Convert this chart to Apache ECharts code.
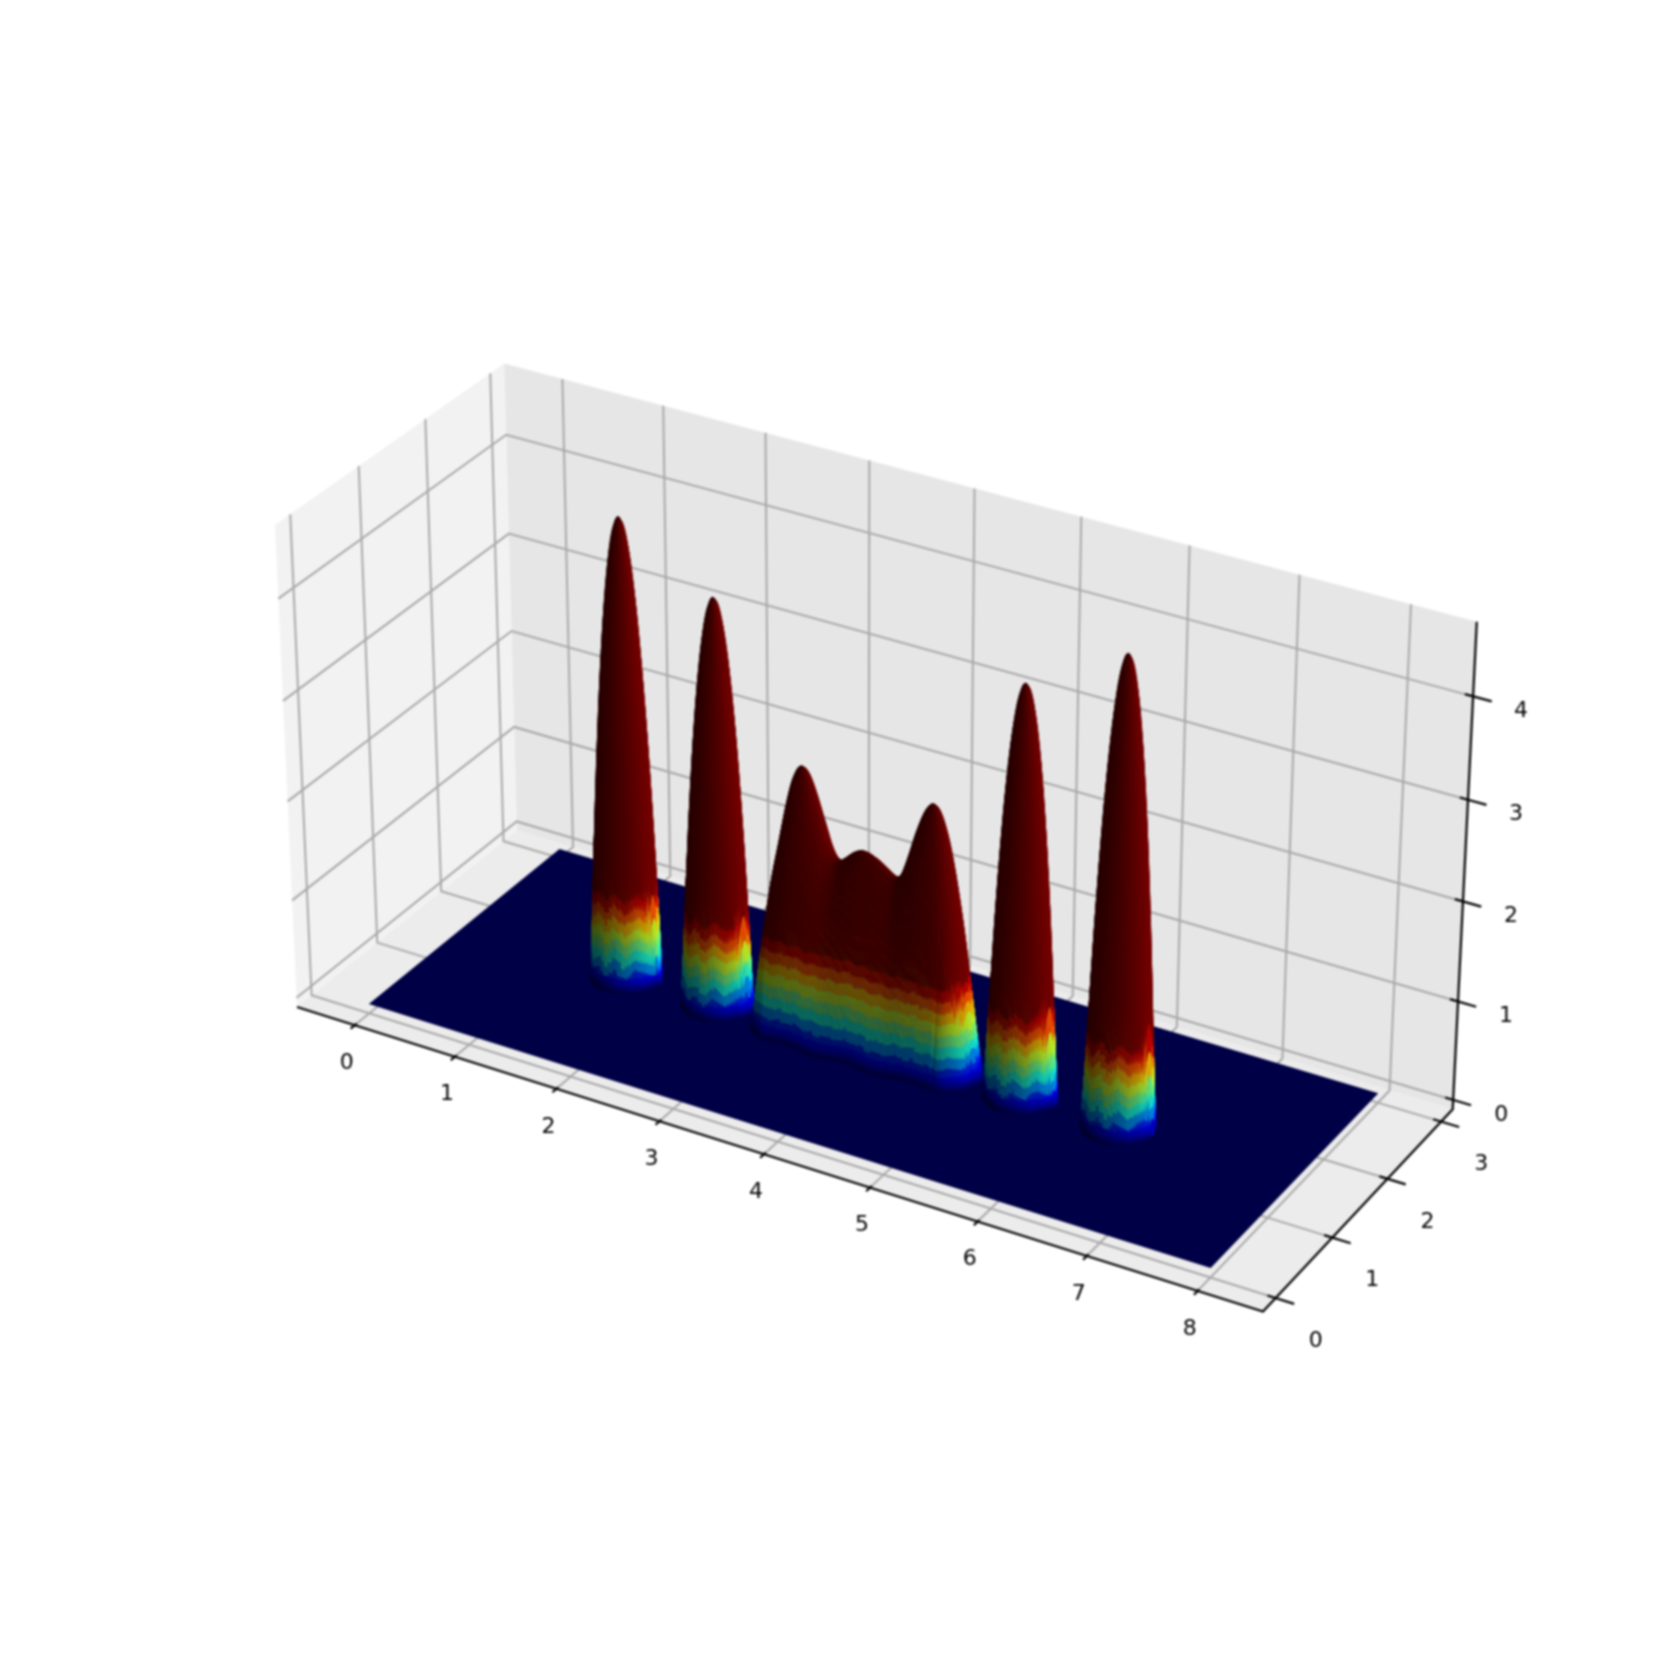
<!DOCTYPE html>
<html lang="en">
<head>
<meta charset="UTF-8">
<title>Surface</title>
<style>
  html, body { margin: 0; padding: 0; background: #fff; }
  #main { width: 1661px; height: 1661px; filter: blur(0.8px); }
</style>
</head>
<body>
<div id="main"></div>
<script src="https://cdn.jsdelivr.net/npm/echarts@6/dist/echarts.min.js"></script>
<script>
// tick values of the three axes
var xTicks = [0, 1, 2, 3, 4, 5, 6, 7, 8];
var yTicks = [0, 1, 2, 3];
var zTicks = [0, 1, 2, 3, 4];

// ridge of the surface along x: one value each 0.04 from x = 1.28
var ridgeStart = 1.28, ridgeStep = 0.04, ridgeY = 1.5;
var ridgeZ = [
  0.03, 0.30, 1.14, 2.12, 2.94, 3.59, 4.08, 4.41, 4.57, 4.57, 4.41, 4.08, 3.59, 2.94, 2.12, 1.14, 0.30, 0.03,
  0, 0, 0, 0, 0,
  0.08, 0.52, 1.46, 2.26, 2.91, 3.41, 3.77, 3.99, 4.06, 3.99, 3.77, 3.41, 2.91, 2.26, 1.46, 0.52, 0.08,
  0,
  0.08, 0.40, 0.80, 1.13, 1.43, 1.68, 1.90,
  2.13, 2.35, 2.52, 2.62, 2.65, 2.62, 2.54, 2.42, 2.28, 2.14, 2.00, 1.90, 1.84, 1.82, 1.85, 1.89, 1.93, 1.96, 1.98, 1.98,
  1.97, 1.95, 1.93, 1.90, 1.87, 1.84, 1.82, 1.83, 1.90, 2.02, 2.16, 2.31, 2.44, 2.55, 2.62, 2.65, 2.62, 2.53, 2.38, 2.17,
  1.90, 1.60, 1.25, 0.88, 0.50, 0.18, 0.03,
  0,
  0.08, 0.52, 1.47, 2.26, 2.91, 3.42, 3.78, 4.00, 4.07, 4.00, 3.78, 3.42, 2.91, 2.26, 1.47, 0.52, 0.08,
  0, 0, 0, 0, 0, 0,
  0.09, 0.60, 1.66, 2.57, 3.31, 3.88, 4.29, 4.54, 4.62, 4.54, 4.29, 3.88, 3.31, 2.57, 1.66, 0.60, 0.09
];
// half width of the surface across y at the same x positions
var ridgeW = [
  0.02, 0.07, 0.15, 0.204, 0.24, 0.265, 0.283, 0.294, 0.299, 0.299, 0.294, 0.283, 0.265, 0.24, 0.204, 0.15, 0.07, 0.02,
  0, 0, 0, 0, 0,
  0.06, 0.13, 0.18, 0.224, 0.254, 0.275, 0.289, 0.297, 0.30, 0.297, 0.289, 0.275, 0.254, 0.224, 0.18, 0.13, 0.06,
  0,
  0.10, 0.18, 0.23, 0.26, 0.28, 0.30, 0.30,
  0.30, 0.295, 0.29, 0.285, 0.28, 0.285, 0.29, 0.30, 0.31, 0.32, 0.325, 0.33, 0.33, 0.33, 0.325, 0.315, 0.305, 0.295, 0.29, 0.29,
  0.29, 0.30, 0.31, 0.32, 0.33, 0.33, 0.33, 0.325, 0.315, 0.305, 0.295, 0.285, 0.28, 0.28, 0.28, 0.28, 0.28, 0.285, 0.29, 0.295,
  0.30, 0.29, 0.27, 0.24, 0.20, 0.14, 0.07,
  0,
  0.06, 0.13, 0.18, 0.224, 0.254, 0.275, 0.289, 0.297, 0.30, 0.297, 0.289, 0.275, 0.254, 0.224, 0.18, 0.13, 0.06,
  0, 0, 0, 0, 0, 0,
  0.06, 0.13, 0.18, 0.224, 0.254, 0.275, 0.289, 0.297, 0.30, 0.297, 0.289, 0.275, 0.254, 0.224, 0.18, 0.13, 0.06
];
// cross section: share of the ridge height at a share of the half width
var crossT = [0, 0.1, 0.2, 0.3, 0.4, 0.5, 0.6, 0.7, 0.76, 0.8, 0.83, 0.85, 0.86, 0.87, 0.88, 0.89, 0.9, 0.91, 0.92, 0.93, 0.94, 0.95, 0.96, 0.97, 0.98, 0.99, 1, 1.02, 1.04, 1.06, 1.08, 1.1, 1.12];
var crossZ = [1, 0.99, 0.96, 0.91, 0.84, 0.75, 0.64, 0.51, 0.422, 0.36, 0.311, 0.278, 0.26, 0.243, 0.226, 0.208, 0.19, 0.172, 0.153, 0.134, 0.116, 0.098, 0.08, 0.063, 0.047, 0.034, 0.024, 0.012, 0.007, 0.004, 0.002, 0.001, 0];

var surfaceX = [0, 8], surfaceY = [0, 3];
// colour scale top, size of the colour steps and of the teeth on their edges
var colorMax = 1.0, colorStep = 0.11, toothWidth = 0.16, toothHeight = 0.09;
// x range of the wide middle part and its mean half width, used for the light only
var middleX = [3.2, 4.76], middleW = 0.30;

// limits of the 3d box
var xLim = [-0.583, 8.583], yLim = [-0.219, 3.219], zLim = [-0.096, 4.711];
// pixel place of six box corners, the camera is worked out from them
var cA = [297, 1007], cB = [1263, 1311.5], cC = [1452.7, 1109.3], cE = [275, 525], cF = [503, 365], cG = [1476.8, 621.8];

function h(p) { return [p[0] / 1000, p[1] / 1000, 1]; }
function det3(a, b, c) {
  return a[0] * (b[1] * c[2] - b[2] * c[1]) - b[0] * (a[1] * c[2] - a[2] * c[1]) + c[0] * (a[1] * b[2] - a[2] * b[1]);
}
var A = h(cA), B = h(cB), C = h(cC), E = h(cE), F = h(cF), G = h(cG);
var negG = [-G[0], -G[1], -G[2]];
var dd = det3(C, E, negG);
var lam = det3(A, E, negG) / dd, c0 = det3(C, A, negG) / dd, nu = det3(C, E, A) / dd;
var R = [A[0] + nu * G[0], A[1] + nu * G[1], A[2] + nu * G[2]];
// a*B + mu*F = R has one equation too many, take the mean of both ways
var a0 = ((R[0] - F[0] * R[2]) / (B[0] - F[0]) + (R[1] - F[1] * R[2]) / (B[1] - F[1])) / 2;
var colU = [a0 * B[0] - A[0], a0 * B[1] - A[1], a0 * B[2] - A[2]];
var colV = [lam * C[0] - a0 * B[0], lam * C[1] - a0 * B[1], lam * C[2] - a0 * B[2]];
var colW = [c0 * E[0] - A[0], c0 * E[1] - A[1], c0 * E[2] - A[2]];

function project(x, y, z) {
  var u = (x - xLim[0]) / (xLim[1] - xLim[0]);
  var v = (y - yLim[0]) / (yLim[1] - yLim[0]);
  var w = (z - zLim[0]) / (zLim[1] - zLim[0]);
  var px = u * colU[0] + v * colV[0] + w * colW[0] + A[0];
  var py = u * colU[1] + v * colV[1] + w * colW[1] + A[1];
  var pw = u * colU[2] + v * colV[2] + w * colW[2] + A[2];
  return [1000 * px / pw, 1000 * py / pw];
}

function lerp(xs, ys, t) {
  if (t <= xs[0]) return ys[0];
  for (var i = 1; i < xs.length; i++) {
    if (t <= xs[i]) return ys[i - 1] + (ys[i] - ys[i - 1]) * (t - xs[i - 1]) / (xs[i] - xs[i - 1]);
  }
  return ys[ys.length - 1];
}
function jet(v) {
  v = Math.max(0, Math.min(1, v));
  return [
    lerp([0, 0.35, 0.66, 0.89, 1], [0, 0, 1, 1, 0.5], v),
    lerp([0, 0.125, 0.375, 0.64, 0.91, 1], [0, 0, 1, 1, 0, 0], v),
    lerp([0, 0.11, 0.34, 0.65, 1], [0.5, 1, 1, 0, 0], v)
  ];
}
// same light as the plot: normal against a fixed direction
function facetColor(z, n, x) {
  var len = Math.sqrt(n[0] * n[0] + n[1] * n[1] + n[2] * n[2]) || 1;
  var dot = (n[0] * 0.667 + n[1] * 0.667 - n[2] * 0.333) / len;
  var s = 0.3 + 0.35 * (1 + dot);
  var zc = z;
  if (z > 0.14) {
    // the colours of the reference run in steps with toothed edges, weak ones on the wide middle part
    var f = x / toothWidth; f -= Math.floor(f);
    var th = (x > 2.9 && x < 5.06) ? toothHeight * 0.3 : toothHeight;
    zc = Math.floor((z + th * Math.abs(2 * f - 1)) / colorStep) * colorStep + colorStep / 2;
  }
  var c = jet(zc / colorMax);
  return 'rgb(' + Math.round(c[0] * 255 * s) + ',' + Math.round(c[1] * 255 * s) + ',' + Math.round(c[2] * 255 * s) + ')';
}

// smooth reading of the ridge tables between their 0.04 steps, only to draw finer than the table
function smooth(arr, x) {
  var f = (x - ridgeStart) / ridgeStep;
  var i = Math.floor(f);
  if (i < 0 || i >= arr.length - 1) return 0;
  var s = f - i;
  var p0 = arr[Math.max(i - 1, 0)], p1 = arr[i], p2 = arr[i + 1], p3 = arr[Math.min(i + 2, arr.length - 1)];
  var v = 0.5 * (2 * p1 + (p2 - p0) * s + (2 * p0 - 5 * p1 + 4 * p2 - p3) * s * s + (3 * p1 - p0 - 3 * p2 + p3) * s * s * s);
  return Math.max(v, 0);
}

// mesh rows in shares of the half width, negative is the front side; dense where the colours run
var rowT = [], tt;
for (tt = 1.12; tt > 0.62; tt -= 0.0075) rowT.push(-tt);
rowT.push(-0.6, -0.5, -0.4, -0.3, -0.2, -0.1, 0, 0.1, 0.2, 0.3, 0.4, 0.5, 0.6, 0.7, 0.76);
for (tt = 0.8; tt < 1.125; tt += 0.015) rowT.push(tt);

var columnStep = 0.01;
var nColumns = Math.round((ridgeZ.length - 1) * ridgeStep / columnStep);
var columns = [];
for (var ci = 0; ci <= nColumns; ci++) {
  var cx = ridgeStart + ci * columnStep;
  var cw = smooth(ridgeW, cx);
  columns.push({ x: cx, z: smooth(ridgeZ, cx), w: cw, lightW: (cx > middleX[0] && cx < middleX[1]) ? middleW : cw });
}
function meshPoint(col, t, w) {
  return [col.x, ridgeY + t * w, col.z * lerp(crossT, crossZ, Math.abs(t))];
}
function facetNormal(a, b, c, d) {
  var d1 = [c[0] - a[0], c[1] - a[1], c[2] - a[2]];
  var d2 = [d[0] - b[0], d[1] - b[1], d[2] - b[2]];
  var n = [d1[1] * d2[2] - d1[2] * d2[1], d1[2] * d2[0] - d1[0] * d2[2], d1[0] * d2[1] - d1[1] * d2[0]];
  return n[2] < 0 ? [-n[0], -n[1], -n[2]] : n;
}
var facets = [];
for (var i = 0; i < nColumns; i++) {
  var c1 = columns[i], c2 = columns[i + 1];
  if (c1.z + c2.z < 0.002) continue;
  for (var j = 0; j < rowT.length - 1; j++) {
    var t1 = rowT[j], t2 = rowT[j + 1];
    var p = [meshPoint(c1, t1, c1.w), meshPoint(c2, t1, c2.w), meshPoint(c2, t2, c2.w), meshPoint(c1, t2, c1.w)];
    var zm = (p[0][2] + p[1][2] + p[2][2] + p[3][2]) / 4;
    if (zm < 0.001) continue;
    var n = facetNormal(meshPoint(c1, t1, c1.lightW), meshPoint(c2, t1, c2.lightW), meshPoint(c2, t2, c2.lightW), meshPoint(c1, t2, c1.lightW));
    var xm = (p[0][0] + p[2][0]) / 2, ym = (p[0][1] + p[2][1] + p[1][1] + p[3][1]) / 4;
    facets.push({ p: p, color: facetColor(zm, n, xm), depth: 52.4 * xm - 82.5 * ym + 57.5 * zm });
  }
}
facets.sort(function (a, b) { return a.depth - b.depth; });

var panes = [
  { color: '#f2f2f2', p: [[xLim[0], yLim[0], zLim[0]], [xLim[0], yLim[1], zLim[0]], [xLim[0], yLim[1], zLim[1]], [xLim[0], yLim[0], zLim[1]]] },
  { color: '#e6e6e6', p: [[xLim[0], yLim[1], zLim[0]], [xLim[1], yLim[1], zLim[0]], [xLim[1], yLim[1], zLim[1]], [xLim[0], yLim[1], zLim[1]]] },
  { color: '#ececec', p: [[xLim[0], yLim[0], zLim[0]], [xLim[1], yLim[0], zLim[0]], [xLim[1], yLim[1], zLim[0]], [xLim[0], yLim[1], zLim[0]]] }
];

// grid lines on the panes
var gridLines = [];
xTicks.forEach(function (x) {
  gridLines.push([[x, yLim[0], zLim[0]], [x, yLim[1], zLim[0]], [x, yLim[1], zLim[1]]]);
});
yTicks.forEach(function (y) {
  gridLines.push([[xLim[1], y, zLim[0]], [xLim[0], y, zLim[0]], [xLim[0], y, zLim[1]]]);
});
zTicks.forEach(function (z) {
  gridLines.push([[xLim[0], yLim[0], z], [xLim[0], yLim[1], z], [xLim[1], yLim[1], z]]);
});

// axis lines and ticks
var dxT = xLim[1] - xLim[0], dyT = yLim[1] - yLim[0];
var axisLines = [
  [[xLim[0], yLim[0], zLim[0]], [xLim[1], yLim[0], zLim[0]], [xLim[1], yLim[1], zLim[0]], [xLim[1], yLim[1], zLim[1]]]
];
xTicks.forEach(function (x) {
  axisLines.push([[x, yLim[0] - 0.018 * dyT, zLim[0]], [x, yLim[0] + 0.008 * dyT, zLim[0]]]);
});
yTicks.forEach(function (y) {
  axisLines.push([[xLim[1] - 0.008 * dxT, y, zLim[0]], [xLim[1] + 0.018 * dxT, y, zLim[0]]]);
});
zTicks.forEach(function (z) {
  axisLines.push([[xLim[1] - 0.008 * dxT, yLim[1], z], [xLim[1] + 0.018 * dxT, yLim[1], z]]);
});

// tick labels: anchored on the axis point, shifted in pixels
var labels = [];
xTicks.forEach(function (x) { labels.push({ text: String(x), at: [x, yLim[0], zLim[0]], dx: -8, dy: 38 }); });
yTicks.forEach(function (y) { labels.push({ text: String(y), at: [xLim[1], y, zLim[0]], dx: 40, dy: 43 }); });
zTicks.forEach(function (z) { labels.push({ text: String(z), at: [xLim[1], yLim[1], z], dx: 48, dy: 15 }); });

function toPixels(api, pts) {
  return pts.map(function (q) { return api.coord(project(q[0], q[1], q[2])); });
}
function indexData(list) {
  return list.map(function (_, k) { return [k, 0]; });
}
function polySeries(list, style) {
  return {
    type: 'custom', coordinateSystem: 'cartesian2d', silent: true, clip: false,
    animation: false, progressive: 0,
    encode: { x: 0, y: 1 },
    data: indexData(list),
    renderItem: function (params, api) { return style(list[api.value(0)], api); }
  };
}

var surfaceFloor = [[surfaceX[0], surfaceY[0], 0], [surfaceX[1], surfaceY[0], 0], [surfaceX[1], surfaceY[1], 0], [surfaceX[0], surfaceY[1], 0]];

var chart = echarts.init(document.getElementById('main'), null, { renderer: 'canvas' });
chart.setOption({
  animation: false,
  backgroundColor: '#ffffff',
  grid: { left: 0, right: 0, top: 0, bottom: 0 },
  xAxis: { type: 'value', min: 0, max: 1661, show: false },
  yAxis: { type: 'value', min: 0, max: 1661, inverse: true, show: false },
  series: [
    polySeries(panes, function (item, api) {
      return { type: 'polygon', shape: { points: toPixels(api, item.p) }, style: { fill: item.color } };
    }),
    polySeries(gridLines, function (item, api) {
      return { type: 'polyline', shape: { points: toPixels(api, item) }, style: { fill: null, stroke: '#a8a8a8', lineWidth: 2 } };
    }),
    polySeries([surfaceFloor], function (item, api) {
      return { type: 'polygon', shape: { points: toPixels(api, item) }, style: { fill: 'rgb(0,0,70)' } };
    }),
    polySeries(facets, function (item, api) {
      return { type: 'polygon', shape: { points: toPixels(api, item.p) }, style: { fill: item.color, stroke: item.color, lineWidth: 0.5 } };
    }),
    polySeries(axisLines, function (item, api) {
      return { type: 'polyline', shape: { points: toPixels(api, item) }, style: { fill: null, stroke: '#000', lineWidth: 2.2 } };
    }),
    polySeries(labels, function (item, api) {
      var c = api.coord(project(item.at[0], item.at[1], item.at[2]));
      return {
        type: 'text', x: c[0] + item.dx, y: c[1] + item.dy,
        style: { text: item.text, font: '22px "DejaVu Sans"', fill: '#000', align: 'center', verticalAlign: 'middle' }
      };
    })
  ]
});
</script>
</body>
</html>
